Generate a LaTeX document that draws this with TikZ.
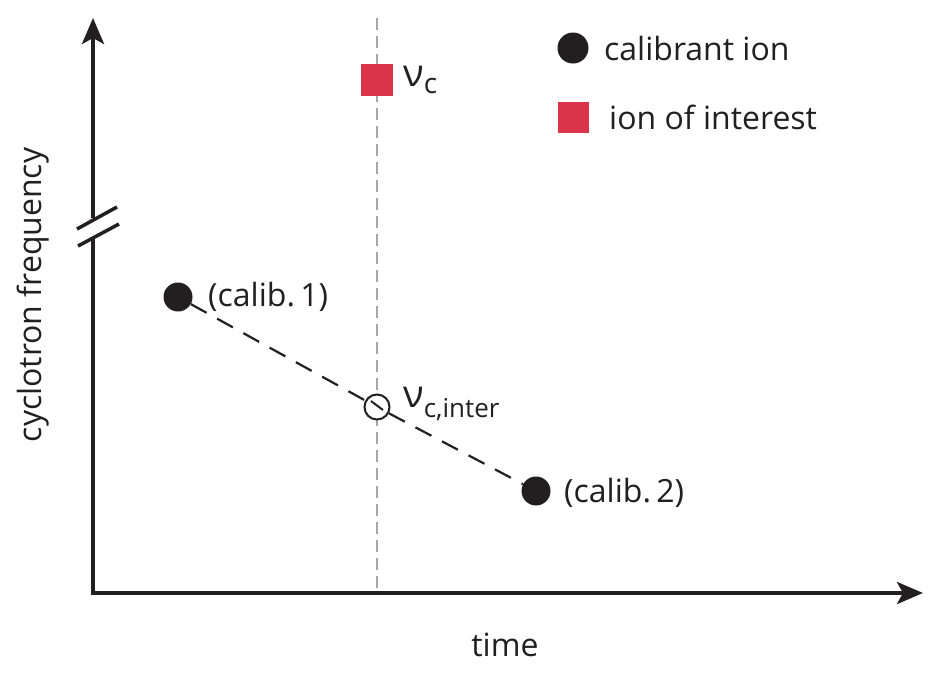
\documentclass[tikz,border=0pt]{standalone}
\usepackage{fontspec}
\setmainfont{Open Sans}
\usetikzlibrary{arrows.meta}
\definecolor{ionred}{HTML}{D9344A}
\definecolor{axisblack}{HTML}{231F20}
\begin{document}
\begin{tikzpicture}[x=1pt,y=-1pt,
  lbl/.style={inner sep=0pt,font=\fontsize{32}{36}\selectfont,text=axisblack},
  nu/.style={inner sep=0pt,font=\fontsize{38}{40}\selectfont,text=axisblack},
  axisline/.style={line width=4pt,draw=axisblack},
  tip/.style={-{Stealth[length=26pt,width=22pt,inset=6pt]}},
  cal/.style={circle,fill=axisblack,minimum size=29pt,inner sep=0pt},
  roi/.style={fill=ionred,minimum size=32pt,inner sep=0pt},
  guide/.style={draw=gray!70,line width=1.5pt,dash pattern=on 12pt off 6pt},
  fit/.style={draw=axisblack,line width=2.2pt,dash pattern=on 18pt off 12pt}]
\useasboundingbox (0,0) rectangle (930,678);
% coordinates
\coordinate (o) at (93,595);
\coordinate (ytop) at (93,18);
\coordinate (xend) at (923,593);
\coordinate (brk1) at (93,218);
\coordinate (brk2) at (93,237);
\coordinate (gtop) at (377,18);
\coordinate (gbot) at (377,588);
% guide line
\draw[guide] (gtop) -- (gbot);
% axes
\draw[axisline] (brk2) -- (o);
\draw[axisline,tip] (91,593) -- (xend);
\draw[axisline,tip] (brk1) -- (ytop);
\draw[line width=3.5pt,draw=axisblack] (77,229) -- (117,207);
\draw[line width=3.5pt,draw=axisblack] (78,246) -- (119,224);
% points
\node[cal] (c1) at (178,297) {};
\node[cal] (c2) at (536,491) {};
\node[circle,draw=axisblack,line width=2pt,minimum size=25pt,inner sep=0pt,fill=white] (ci) at (377,407) {};
\draw[fit] (c1) -- (ci);
\draw[fit] (ci) -- (c2);
\draw[axisblack,line width=2pt] (371,401) -- (383,410);
\node[roi] (sq) at (377,80) {};
% labels
\node[lbl,anchor=west] (l1) at (208,297) {(calib.\,1)};
\node[lbl,anchor=west] (l2) at (564,493) {(calib.\,2)};
\node[nu,anchor=west] (lnc) at (403,80) {ν\textsubscript{\fontsize{28}{30}\selectfont c}};
\node[nu,anchor=west] (lni) at (403,404) {ν\textsubscript{\fontsize{26}{28}\selectfont c,inter}};
% legend
\node[cal,minimum size=31pt] (lg1) at (573,48) {};
\node[lbl,anchor=west] (lt1) at (604,48) {calibrant ion};
\node[roi,minimum size=31pt] (lg2) at (573,117) {};
\node[lbl,anchor=west] (lt2) at (609,117) {ion of interest};
% axis titles
\node[lbl] (xt) at (505,645) {time};
\node[lbl,rotate=90] (yt) at (33,295) {cyclotron frequency};
\end{tikzpicture}
\end{document}
